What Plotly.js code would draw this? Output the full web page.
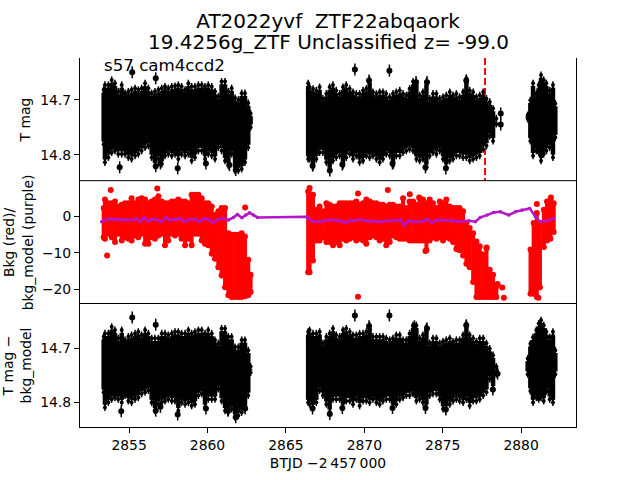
<!DOCTYPE html>
<html>
<head>
<meta charset="utf-8">
<script src="https://cdn.plot.ly/plotly-3.0.1.min.js"></script>
<style>html,body{margin:0;padding:0;background:#fff}</style>
</head>
<body>
<div id="chart" style="width:640px;height:480px"></div>
<script>
const timeA = [2853.38,2853.46,2853.68,2853.89,2854.10,2854.31,2854.53,2854.74,2854.95,2855.16,
2855.38,2855.59,2855.80,2856.02,2856.23,2856.44,2856.65,2856.87,2857.08,2857.29,
2857.50,2857.72,2857.93,2858.14,2858.35,2858.57,2858.78,2858.99,2859.20,2859.42,
2859.63,2859.84,2860.05,2860.27,2860.48,2860.69,2860.90,2861.12,2861.33,2861.54,
2861.76,2861.97,2862.18,2862.39,2862.60,2862.75];
const timeB = [2866.42,2866.51,2866.73,2866.94,2867.15,2867.36,2867.58,2867.79,2868.00,2868.21,
2868.43,2868.64,2868.85,2869.07,2869.28,2869.49,2869.70,2869.92,2870.13,2870.34,
2870.55,2870.77,2870.98,2871.19,2871.40,2871.62,2871.83,2872.04,2872.26,2872.47,
2872.68,2872.89,2873.11,2873.32,2873.53,2873.74,2873.96,2874.17,2874.38,2874.60,
2874.81,2875.02,2875.23,2875.45,2875.66,2875.87,2876.08,2876.30,2876.51,2876.72,
2876.94,2877.15,2877.36,2877.58,2877.79,2878.00,2878.21,2878.42];
const timeC = [2880.42,2880.59,2880.76,2880.97,2881.12,2881.27,2881.44,2881.61,2881.82,2882.03,2882.18];
const timeCRed = [2880.6,2880.8,2881.0,2881.2,2881.45,2881.65,2881.87,2882.08];

const magBrightA = [14.682,14.673,14.673,14.664,14.670,14.685,14.673,14.688,14.685,14.682,
14.679,14.682,14.679,14.670,14.679,14.688,14.685,14.682,14.679,14.676,
14.679,14.676,14.675,14.673,14.676,14.682,14.670,14.676,14.676,14.673,
14.673,14.676,14.673,14.676,14.685,14.694,14.667,14.667,14.685,14.679,
14.697,14.700,14.688,14.688,14.706,14.725];
const magFaintA = [14.781,14.814,14.805,14.796,14.793,14.799,14.799,14.799,14.805,14.808,
14.802,14.799,14.793,14.787,14.784,14.805,14.820,14.808,14.817,14.802,
14.799,14.802,14.799,14.808,14.799,14.802,14.799,14.811,14.805,14.793,
14.793,14.808,14.799,14.802,14.808,14.787,14.793,14.811,14.820,14.799,
14.829,14.829,14.826,14.814,14.787,14.750];
const magBrightB = [14.670,14.677,14.680,14.683,14.677,14.698,14.689,14.677,14.673,14.683,
14.689,14.677,14.673,14.680,14.686,14.689,14.689,14.683,14.680,14.664,
14.686,14.689,14.686,14.686,14.689,14.695,14.689,14.686,14.683,14.689,
14.692,14.680,14.667,14.667,14.692,14.686,14.667,14.698,14.689,14.689,
14.698,14.695,14.692,14.686,14.692,14.689,14.695,14.686,14.661,14.683,
14.686,14.695,14.692,14.686,14.698,14.704,14.716,14.734];
const magFaintB = [14.808,14.808,14.823,14.808,14.796,14.796,14.814,14.829,14.811,14.805,
14.802,14.820,14.805,14.799,14.808,14.802,14.814,14.811,14.802,14.805,
14.802,14.808,14.814,14.808,14.799,14.802,14.820,14.802,14.802,14.796,
14.793,14.790,14.793,14.808,14.811,14.808,14.823,14.802,14.796,14.799,
14.793,14.808,14.823,14.811,14.808,14.802,14.802,14.805,14.805,14.811,
14.808,14.805,14.802,14.790,14.784,14.766,14.775,14.744];
const magBrightC = [14.728,14.701,14.670,14.689,14.673,14.655,14.664,14.670,14.683,14.673,14.707];
const magFaintC = [14.735,14.775,14.802,14.793,14.796,14.811,14.799,14.793,14.787,14.805,14.769];
const magOutT = [2855.2,2856.7,2854.4,2856.7,2857.0,2858.1,2859.9,2861.4,2861.8,2869.4,2871.6,2867.8,2868.6,2866.7,2871.8,2873.9,2875.2,2870.3,2873.3,2874.0,2876.5,2878.7,2878.7];
const magOutY = [14.650,14.661,14.823,14.821,14.816,14.825,14.816,14.819,14.828,14.645,14.647,14.829,14.818,14.820,14.816,14.823,14.825,14.665,14.668,14.668,14.665,14.725,14.745];

const detBrightA = [14.679,14.673,14.673,14.661,14.667,14.682,14.667,14.685,14.679,14.676,
14.673,14.670,14.676,14.667,14.673,14.682,14.682,14.682,14.673,14.673,
14.676,14.673,14.670,14.670,14.673,14.673,14.667,14.673,14.670,14.667,
14.667,14.673,14.667,14.673,14.685,14.691,14.664,14.664,14.679,14.679,
14.698,14.698,14.685,14.685,14.704,14.734];
const detFaintA = [14.781,14.809,14.800,14.794,14.791,14.794,14.800,14.787,14.797,14.800,
14.794,14.791,14.784,14.781,14.778,14.800,14.815,14.803,14.800,14.797,
14.794,14.797,14.797,14.815,14.800,14.803,14.800,14.806,14.803,14.787,
14.784,14.809,14.794,14.794,14.794,14.775,14.797,14.815,14.818,14.812,
14.827,14.824,14.818,14.812,14.787,14.745];
const detBrightB = [14.670,14.667,14.673,14.673,14.670,14.691,14.679,14.673,14.664,14.676,
14.679,14.667,14.664,14.670,14.676,14.676,14.673,14.673,14.670,14.658,
14.679,14.679,14.679,14.679,14.682,14.685,14.682,14.676,14.676,14.685,
14.685,14.673,14.658,14.658,14.682,14.676,14.661,14.691,14.682,14.682,
14.691,14.688,14.685,14.682,14.688,14.685,14.685,14.676,14.655,14.676,
14.682,14.688,14.682,14.682,14.691,14.701,14.713,14.734];
const detFaintB = [14.800,14.803,14.809,14.800,14.778,14.787,14.803,14.818,14.794,14.794,
14.794,14.809,14.797,14.797,14.803,14.794,14.806,14.797,14.797,14.800,
14.794,14.800,14.803,14.797,14.794,14.794,14.809,14.803,14.794,14.791,
14.787,14.787,14.784,14.797,14.794,14.800,14.809,14.787,14.784,14.784,
14.794,14.812,14.812,14.803,14.797,14.794,14.797,14.800,14.794,14.806,
14.797,14.797,14.794,14.787,14.781,14.757,14.775,14.748];
const detBrightC = [14.719,14.692,14.680,14.667,14.655,14.649,14.658,14.670,14.680,14.670,14.704];
const detFaintC = [14.748,14.779,14.800,14.791,14.794,14.791,14.797,14.779,14.794,14.800,14.748];
const detOutT = [2855.2,2856.7,2854.5,2856.7,2857.0,2858.1,2859.9,2861.3,2861.8,2862.4,2869.4,2871.6,2870.3,2873.2,2874.0,2876.5,2867.8,2868.6,2866.7,2871.8,2873.9,2875.2,2878.2,2878.5];
const detOutY = [14.644,14.657,14.816,14.815,14.808,14.822,14.811,14.815,14.827,14.811,14.640,14.640,14.660,14.660,14.664,14.658,14.821,14.810,14.811,14.810,14.810,14.813,14.776,14.747];

const bkgHighA = [2.3,4.6,3.6,3.6,4.1,2.7,3.2,3.6,3.6,5.0,
3.6,4.6,5.0,4.6,3.6,4.1,4.6,5.5,4.1,3.6,
3.6,4.1,4.1,4.6,4.1,4.1,3.6,5.9,5.9,5.9,
5.0,3.6,3.6,2.7,0.4,1.4,2.3,2.3,-4.6,-5.0,
-5.0,-5.0,-4.6,-5.5,-11.9,-16.0];
const bkgLowA = [-5.7,-6.1,-4.75,-5.7,-7.0,-4.75,-6.6,-5.7,-6.1,-6.6,
-5.2,-5.7,-4.75,-7.5,-7.5,-5.7,-6.1,-5.2,-4.75,-7.9,
-6.6,-4.75,-5.2,-4.75,-6.1,-7.9,-6.1,-7.9,-4.75,-4.75,
-6.6,-7.5,-7.9,-10.2,-11.6,-13.9,-16.2,-19.4,-21.6,-22.1,
-22.1,-22.1,-22.1,-21.9,-21.6,-20.7];
const bkgHighB = [6.8,7.75,5.9,1.8,2.7,1.4,3.6,3.2,2.7,2.7,
3.6,3.6,3.6,3.6,3.6,4.1,3.2,3.6,4.6,4.1,
3.6,3.6,3.2,3.2,2.7,3.2,3.2,2.7,2.7,5.0,
2.3,4.1,4.1,3.2,5.0,4.6,3.6,4.6,3.6,2.3,
4.1,3.6,4.6,2.7,2.3,2.3,2.3,1.4,-1.8,-3.2,
-4.6,-6.9,-8.2,-10.5,-8.7,-14.6,-16.0,-19.2];
const bkgLowB = [-15.3,-15.3,-12.1,-6.6,-6.6,-5.7,-7.0,-7.0,-7.9,-7.0,
-7.9,-6.1,-6.6,-6.1,-5.7,-6.6,-6.1,-6.6,-7.5,-5.7,
-5.2,-5.7,-6.6,-6.1,-7.9,-7.0,-5.2,-5.7,-6.1,-6.1,
-6.1,-6.6,-6.6,-6.6,-6.6,-6.6,-9.3,-6.6,-5.7,-6.1,
-5.7,-6.6,-5.7,-6.1,-7.0,-8.9,-9.3,-10.7,-13.0,-13.9,
-18,-22.1,-22.1,-22.1,-22.1,-22.1,-22.1,-22.1];
const bkgHighC = [-9.1,-1.8,0.9,-1.8,1.8,4.1,4.6,3.6];
const bkgLowC = [-21.2,-21.2,-22.1,-19.4,-8.4,-6.6,-6.1,-4.3];
const bkgOutT = [2853.83,2853.6,2856.8,2862.4,2869.6,2871.5,2869.6,2872.9,2873.5,2873.9,2876.0,2877.8,2877.5,2878.5,2878.8,2878.9,2878.2,2881.0,2881.9,2881.1];
const bkgOutY = [7.2,-10.7,7.66,2.46,6.3,7.2,-22,6.1,5.2,-9.5,-8.96,-8.5,-10.4,-18.5,-19.5,-22.3,-22,3.4,5.2,-22.3];

const modelT = [2853.25,2853.57,2853.89,2854.21,2854.53,2854.85,2855.17,2855.49,2855.70,2855.95,
2856.23,2856.44,2856.76,2857.08,2857.36,2857.61,2857.93,2858.25,2858.51,2858.85,
2859.21,2859.48,2859.78,2860.06,2860.38,2860.63,2861.02,2861.34,2861.65,2861.91,
2862.19,2862.44,2862.68,2862.93,2863.19,2866.33,2866.55,2866.76,2867.18,2867.5,2867.9,2868.2,
2868.47,2868.79,2869.11,2869.43,2869.75,2870.07,2870.38,2870.81,2871.13,2871.55,
2871.98,2872.3,2872.55,2872.83,2873.15,2873.68,2874.04,2874.32,2874.64,2875.06,
2875.6,2876.02,2876.66,2877.08,2877.4,2877.83,2878.25,2878.68,2879.21,2879.64,
2880.06,2880.55,2880.91,2881.23,2881.66,2882.08];
const modelV = [-1.47,-0.83,-0.74,-0.83,-1.01,-1.01,-1.01,-0.55,-1.47,-0.37,
-1.29,-0.83,-0.83,-1.47,-0.28,-1.01,-0.83,-0.55,-1.47,-0.83,
-0.83,-1.47,-0.55,-0.83,-1.74,-0.83,-0.55,-1.01,-0.28,0.54,
-0.37,0.36,1.0,0.36,-0.28,-0.1,-0.83,-1.47,-1.47,-1.1,-0.9,-1.2,
-1.19,-1.74,-1.19,-1.19,-0.83,-1.19,-1.29,-1.47,-1.47,-1.19,
-1.19,-1.01,-2.38,-1.19,-1.47,-1.47,-0.83,-1.74,-1.01,-1.01,
-1.19,-1.47,-1.19,-1.47,-0.28,0.36,1.09,1.27,0.36,1.27,
1.73,2.19,-0.1,-1.47,-1.19,-0.55];

const peakTime = 2877.7;
const titleLines = ['AT2022yvf  ZTF22abqaork', '19.4256g_ZTF Unclassified z= -99.0'];
const fieldLabel = 's57 cam4ccd2';
const xLabel = 'BTJD \u22122\u2009457\u2009000';
const yLabels = ['T mag', 'Bkg (red)/<br>bkg_model (purple)', 'T mag \u2212<br>bkg_model'];
const xTicks = [2855, 2860, 2865, 2870, 2875, 2880];

function columns(groups, inset) {
  const x = [], y = [];
  groups.forEach(([t, hi, lo]) => t.forEach((v, i) => { x.push(v, v, null); y.push(hi[i] + inset, lo[i] - inset, null); }));
  return {x, y};
}
function blackMass(groups, ya) {
  const body = columns(groups, 0.005), tips = columns(groups, 0);
  return [
    {x: body.x, y: body.y, xaxis: 'x', yaxis: ya, mode: 'lines', hoverinfo: 'skip', line: {color: '#000', width: 4.5}},
    {x: tips.x, y: tips.y, xaxis: 'x', yaxis: ya, mode: 'lines+markers', hoverinfo: 'skip',
     line: {color: '#000', width: 1.5}, marker: {color: '#000', size: 4},
     error_y: {type: 'constant', value: 0.0065, color: '#000', thickness: 1.5, width: 0}}
  ];
}
function redMass(groups, ya) {
  const c = columns(groups, 0);
  return {x: c.x, y: c.y, xaxis: 'x', yaxis: ya, mode: 'lines+markers', hoverinfo: 'skip',
    line: {color: '#ff0000', width: 4}, marker: {color: '#ff0000', size: 6}};
}
function outTrace(x, y, ya, color, ms, err) {
  const tr = {x, y, xaxis: 'x', yaxis: ya, mode: 'markers', hoverinfo: 'skip', marker: {color, size: ms}};
  if (err) tr.error_y = {type: 'constant', value: err, color, thickness: 1.5, width: 0};
  return tr;
}

const data = [
  {x: [peakTime, peakTime], y: [14.624, 14.848], xaxis: 'x', yaxis: 'y', mode: 'lines', hoverinfo: 'skip',
   line: {color: '#ff0000', width: 2, dash: '7px,3px'}},
  ...blackMass([[timeA, magBrightA, magFaintA], [timeB, magBrightB, magFaintB], [timeC, magBrightC, magFaintC]], 'y'),
  outTrace(magOutT, magOutY, 'y', '#000', 6, 0.011),
  redMass([[timeA, bkgHighA, bkgLowA], [timeB, bkgHighB, bkgLowB], [timeCRed, bkgHighC, bkgLowC]], 'y2'),
  outTrace(bkgOutT, bkgOutY, 'y2', '#ff0000', 6, 0),
  {x: modelT, y: modelV, xaxis: 'x', yaxis: 'y2', mode: 'lines+markers', hoverinfo: 'skip',
   line: {color: '#b515c8', width: 2.5}, marker: {color: '#b515c8', size: 3.5}},
  ...blackMass([[timeA, detBrightA, detFaintA], [timeB, detBrightB, detFaintB], [timeC, detBrightC, detFaintC]], 'y3'),
  outTrace(detOutT, detOutY, 'y3', '#000', 6, 0.011)
];

const FONT = '"DejaVu Sans", sans-serif';
const tickFont = {family: FONT, size: 13.9, color: '#000'};
const labelFont = {family: FONT, size: 13.9, color: '#000'};
const commonY = {showgrid: false, zeroline: false, showline: true, mirror: true, linecolor: '#000', linewidth: 1,
  ticks: 'outside', ticklen: 5, tickwidth: 1, tickcolor: '#000', tickfont: tickFont};
const layout = {
  width: 640, height: 480, showlegend: false, paper_bgcolor: '#fff', plot_bgcolor: '#fff',
  margin: {l: 80, r: 64, t: 57.6, b: 52.8, pad: 0},
  title: {text: titleLines[0], x: 0.5125, xanchor: 'center', y: 1 - 21 / 480, yanchor: 'middle',
    font: {family: FONT, size: 20, color: '#000'}},
  xaxis: {domain: [0, 1], range: [2851.87, 2883.5], anchor: 'y3', showgrid: false, zeroline: false,
    showline: true, mirror: true, linecolor: '#000', linewidth: 1, ticks: 'outside', ticklen: 5, tickwidth: 1,
    tickcolor: '#000', tickfont: tickFont, tickvals: xTicks, ticktext: xTicks.map(String),
    title: {text: xLabel, font: labelFont, standoff: 6}},
  yaxis: Object.assign({}, commonY, {domain: [2/3, 1], range: [14.848, 14.624], anchor: 'x',
    tickvals: [14.7, 14.8], ticktext: ['14.7', '14.8'],
    title: {text: yLabels[0], font: labelFont, standoff: 6}}),
  yaxis2: Object.assign({}, commonY, {domain: [1/3, 2/3], range: [-24.0, 9.7], anchor: 'x',
    tickvals: [0, -10, -20], ticktext: ['0', '\u221210', '\u221220'],
    title: {text: yLabels[1], font: labelFont, standoff: 5}}),
  yaxis3: Object.assign({}, commonY, {domain: [0, 1/3], range: [14.845, 14.619], anchor: 'x',
    tickvals: [14.7, 14.8], ticktext: ['14.7', '14.8'],
    title: {text: yLabels[2], font: labelFont, standoff: 5}}),
  annotations: [
    {text: fieldLabel, xref: 'x', yref: 'y', x: 2853.3, y: 14.638, xanchor: 'left', yanchor: 'middle',
     showarrow: false, font: {family: FONT, size: 16.67, color: '#000'}},
    {text: titleLines[1], xref: 'paper', yref: 'paper', x: 0.5, y: 1 + (57.6 - 42) / 369.6, xanchor: 'center', yanchor: 'middle',
     showarrow: false, font: {family: FONT, size: 20, color: '#000'}}
  ],
  shapes: [
    {type: 'line', xref: 'paper', yref: 'paper', x0: 0, x1: 1, y0: 0.3347, y1: 0.3347, line: {color: '#000', width: 1}},
    {type: 'line', xref: 'paper', yref: 'paper', x0: 0, x1: 1, y0: 0.6675, y1: 0.6675, line: {color: '#000', width: 1}}
  ]
};
Plotly.newPlot('chart', data, layout, {displayModeBar: false, staticPlot: true});
</script>
</body>
</html>
